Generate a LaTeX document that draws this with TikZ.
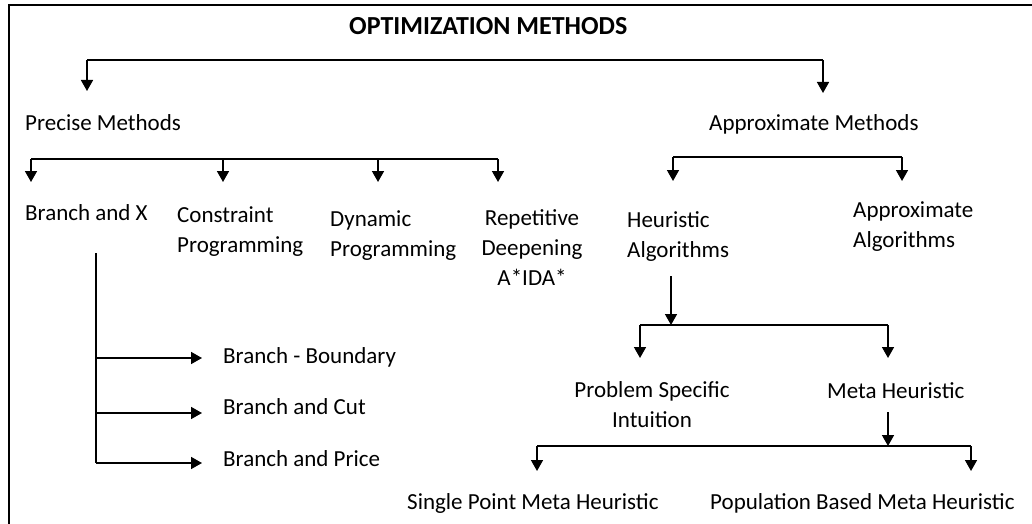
\documentclass[tikz,border=0pt]{standalone}
\usepackage{fontspec}
\setmainfont{Carlito}
\usetikzlibrary{arrows.meta}
\begin{document}
\begin{tikzpicture}[x=1pt,y=-1pt,
  txt/.style={inner sep=0pt,font=\fontsize{23}{30}\selectfont},
  lbl/.style={txt,anchor=base west,align=left},
  clbl/.style={txt,anchor=base,align=center},
  link/.style={line width=1.6pt},
  arr/.style={link,-{Triangle[width=12pt,length=11pt]}}]
\useasboundingbox (0,0) rectangle (1032,524);
% frame lines
\draw[line width=2pt] (9,524) -- (9,5) -- (1032,5);

% labels (multi-line nodes are placed by the baseline of their last line)
\node[lbl,font=\bfseries\fontsize{26}{30}\selectfont] (title) at (349,35) {OPTIMIZATION METHODS};
\node[lbl] (precise) at (25,131) {Precise Methods};
\node[lbl] (approx) at (709,130) {Approximate Methods};
\node[lbl] (bx) at (25,220) {Branch and X};
\node[lbl] (cp) at (177,252) {Constraint\\Programming};
\node[lbl] (dp) at (330,256) {Dynamic\\Programming};
\node[clbl] (rd) at (532,285) {Repetitive\\Deepening\\A*IDA*};
\node[lbl] (heur) at (627,257) {Heuristic\\Algorithms};
\node[lbl] (aalg) at (853,247) {Approximate\\Algorithms};
\node[lbl] (bb) at (223,363) {Branch - Boundary};
\node[lbl] (bc) at (223,414) {Branch and Cut};
\node[lbl] (bp) at (223,466) {Branch and Price};
\node[clbl] (psi) at (652,427) {Problem Specific\\Intuition};
\node[lbl] (meta) at (827,398) {Meta Heuristic};
\node[lbl] (spmh) at (407,509) {Single Point Meta Heuristic};
\node[lbl] (pbmh) at (710,509) {Population Based Meta Heuristic};

% junction points
\coordinate (f0l) at (87,60);
\coordinate (f0r) at (823,60);
\coordinate (f1a) at (31,159);
\coordinate (f1b) at (223,159);
\coordinate (f1c) at (378,159);
\coordinate (f1d) at (498,159);
\coordinate (f2a) at (673,157);
\coordinate (f2b) at (902,157);
\coordinate (h0) at (671,276);
\coordinate (f3l) at (640,325);
\coordinate (f3m) at (671,325);
\coordinate (f3r) at (888,325);
\coordinate (m0) at (888,412);
\coordinate (f4l) at (537,446);
\coordinate (f4m) at (888,446);
\coordinate (f4r) at (971,446);
\coordinate (x0) at (96,253);
\coordinate (x1) at (96,358);
\coordinate (x2) at (96,413);
\coordinate (x3) at (96,463);

% top level
\draw[link] (f0l) -- (f0r);
\draw[arr] (f0l) -- ++(0,31);
\draw[arr] (f0r) -- ++(0,33);

% precise methods
\draw[link] (f1a) -- (f1d);
\foreach \c in {f1a,f1b,f1c,f1d} \draw[arr] (\c) -- ++(0,23);

% approximate methods
\draw[link] (f2a) -- (f2b);
\foreach \c in {f2a,f2b} \draw[arr] (\c) -- ++(0,24);

% heuristic algorithms
\draw[arr] (h0) -- (f3m);
\draw[link] (f3l) -- (f3r);
\foreach \c in {f3l,f3r} \draw[arr] (\c) -- ++(0,33);

% meta heuristic
\draw[arr] (m0) -- (f4m);
\draw[link] (f4l) -- (f4r);
\foreach \c in {f4l,f4r} \draw[arr] (\c) -- ++(0,25);

% branch and X
\draw[link] (x0) -- (x3);
\foreach \c in {x1,x2,x3} \draw[arr] (\c) -- ++(106,0);
\end{tikzpicture}
\end{document}
